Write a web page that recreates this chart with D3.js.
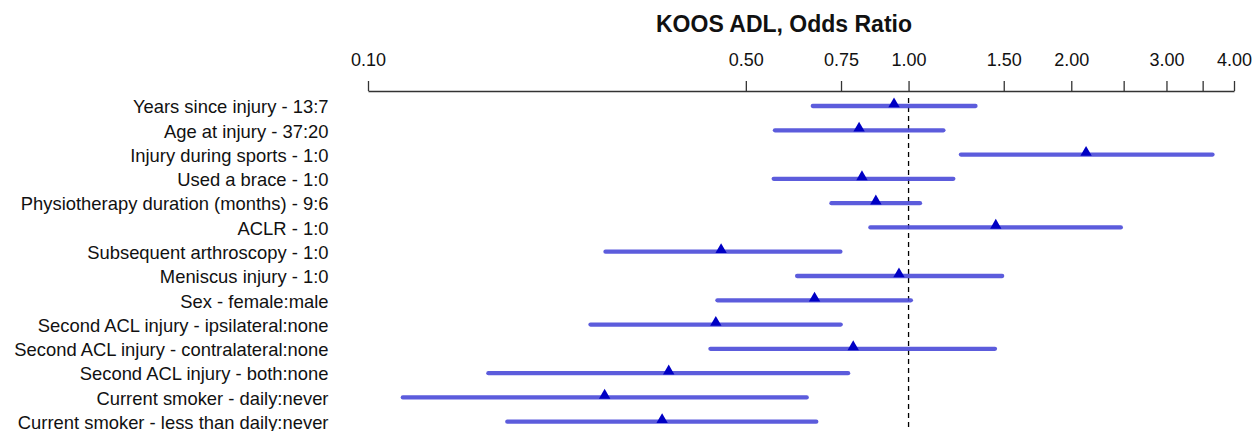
<!DOCTYPE html>
<html>
<head>
<meta charset="utf-8">
<script src="https://cdn.jsdelivr.net/npm/d3@7"></script>
<style>
  body { margin: 0; background: #fff; }
  svg { font-family: "Liberation Sans", Arial, sans-serif; }
</style>
</head>
<body>
<svg></svg>
<script>
var width = 1253, height = 431;

var labels = [
    "Years since injury - 13:7",
    "Age at injury - 37:20",
    "Injury during sports - 1:0",
    "Used a brace - 1:0",
    "Physiotherapy duration (months) - 9:6",
    "ACLR - 1:0",
    "Subsequent arthroscopy - 1:0",
    "Meniscus injury - 1:0",
    "Sex - female:male",
    "Second ACL injury - ipsilateral:none",
    "Second ACL injury - contralateral:none",
    "Second ACL injury - both:none",
    "Current smoker - daily:never",
    "Current smoker - less than daily:never"
];
var est   = [0.94, 0.81, 2.13, 0.82, 0.87, 1.45, 0.45, 0.96, 0.67, 0.44, 0.79, 0.36, 0.274, 0.35];
var lower = [0.665, 0.566, 1.25, 0.563, 0.72, 0.85, 0.275, 0.622, 0.443, 0.258, 0.43, 0.167, 0.116, 0.181];
var upper = [1.33, 1.16, 3.65, 1.21, 1.05, 2.47, 0.748, 1.49, 1.01, 0.749, 1.445, 0.773, 0.648, 0.675];

var tickVals = [0.10, 0.50, 0.75, 1.00, 1.50, 2.00, 2.50, 3.00, 3.50, 4.00];
var tickLabels = ["0.10", "0.50", "0.75", "1.00", "1.50", "2.00", "", "3.00", "", "4.00"];

var svg = d3.select("svg")
    .attr("width", width)
    .attr("height", height);

var x = d3.scaleLog()
    .domain([0.1, 4])
    .range([368, 1234]);

var y = d3.scalePoint()
    .domain(d3.range(labels.length))
    .range([106, 421.7]);

// title
svg.append("text")
    .attr("x", 784)
    .attr("y", 32)
    .attr("text-anchor", "middle")
    .style("font-weight", "bold")
    .style("font-size", "23px")
    .attr("fill", "#111")
    .text("KOOS ADL, Odds Ratio");

// axis on top
var axis = svg.append("g")
    .attr("transform", "translate(0,91)")
    .call(d3.axisTop(x)
        .tickValues(tickVals)
        .tickFormat(function(d, i) { return tickLabels[i]; })
        .tickSize(10)
        .tickSizeOuter(0)
        .tickPadding(15));

axis.select(".domain").attr("stroke", "#333").attr("stroke-width", 1.6);
axis.selectAll(".tick line").attr("stroke", "#333").attr("stroke-width", 1.3);
axis.selectAll(".tick text")
    .style("font-size", "18px")
    .style("font-family", "'Liberation Sans', Arial, sans-serif")
    .attr("fill", "#111");

// reference line at 1
svg.append("line")
    .attr("x1", x(1)).attr("x2", x(1))
    .attr("y1", 98).attr("y2", 428)
    .attr("stroke", "#000")
    .attr("stroke-width", 1.3)
    .attr("stroke-dasharray", "5,4");

// row labels
svg.selectAll(".rowlabel")
    .data(labels)
    .enter().append("text")
    .attr("class", "rowlabel")
    .attr("x", 328.5)
    .attr("y", function(d, i) { return y(i); })
    .attr("dy", "0.4em")
    .attr("text-anchor", "end")
    .style("font-size", "18.4px")
    .attr("fill", "#111")
    .text(function(d) { return d; });

// interval lines
svg.selectAll(".ci")
    .data(labels)
    .enter().append("line")
    .attr("class", "ci")
    .attr("x1", function(d, i) { return x(lower[i]); })
    .attr("x2", function(d, i) { return x(upper[i]); })
    .attr("y1", function(d, i) { return y(i); })
    .attr("y2", function(d, i) { return y(i); })
    .attr("stroke", "#4a4ad8")
    .attr("stroke-opacity", 0.9)
    .attr("stroke-width", 4.3)
    .attr("stroke-linecap", "round");

// estimate triangles
svg.selectAll(".pt")
    .data(labels)
    .enter().append("path")
    .attr("class", "pt")
    .attr("d", d3.symbol().type(d3.symbolTriangle).size(56))
    .attr("transform", function(d, i) { return "translate(" + x(est[i]) + "," + (y(i) - 2) + ")"; })
    .attr("fill", "#0000c4");
</script>
</body>
</html>
